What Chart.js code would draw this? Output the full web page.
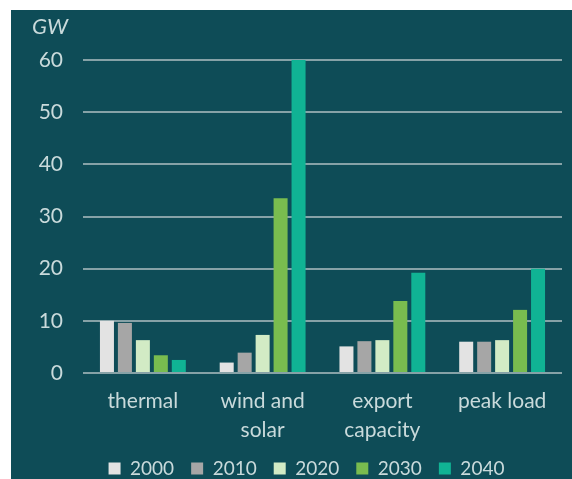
<!DOCTYPE html>
<html>
<head>
<meta charset="utf-8">
<script src="https://cdn.jsdelivr.net/npm/chart.js@4.4.1/dist/chart.umd.min.js"></script>
<style>
  html, body { margin: 0; background: #fff; overflow: hidden; }
  .panel { position: absolute; left: 11px; top: 10px; width: 561px; height: 469px; background: #0e4c57; overflow: hidden; }
  .chart-box { position: relative; width: 561px; height: 478px; }
</style>
</head>
<body>
<div class="panel"><div class="chart-box"><canvas id="capacityChart"></canvas></div></div>
<script>
// Capacity by category and year (GW)
var categories = [["thermal"], ["wind and", "solar"], ["export", "capacity"], ["peak load"]];
var years = ["2000", "2010", "2020", "2030", "2040"];
var values2000 = [10.0, 2.0, 5.1, 6.0];
var values2010 = [9.6, 3.9, 6.1, 6.0];
var values2020 = [6.3, 7.3, 6.3, 6.3];
var values2030 = [3.4, 33.5, 13.8, 12.1];
var values2040 = [2.5, 60.0, 19.2, 20.0];
var yTicks = [0, 10, 20, 30, 40, 50, 60];

var colors = ["#e3e3e3", "#a6a6a6", "#d2ebc5", "#79bc4f", "#10b394"];
var series = [values2000, values2010, values2020, values2030, values2040];
var textColor = "#c9dadb";
var fontFamily = "Lato, 'Open Sans', sans-serif";

// "GW" unit label in the top-left corner
var unitLabel = {
  id: "unitLabel",
  afterDraw: function (chart) {
    var ctx = chart.ctx;
    ctx.save();
    ctx.fillStyle = textColor;
    ctx.font = "italic 22px " + fontFamily;
    ctx.textBaseline = "middle";
    ctx.fillText("GW", 21, 17);
    ctx.restore();
  }
};

// center the legend under the plot rather than the whole canvas
var legendShift = {
  id: "legendShift",
  afterLayout: function (chart) {
    chart.legend.left += 20;
    chart.legend.right += 20;
  }
};

var ctx = document.getElementById("capacityChart").getContext("2d");
var capacityChart = new Chart(ctx, {
  type: "bar",
  data: {
    labels: categories,
    datasets: years.map(function (year, i) {
      return {
        label: year,
        data: series[i],
        backgroundColor: colors[i],
        borderWidth: 0,
        barPercentage: 0.78,
        categoryPercentage: 0.75,
      };
    }),
  },
  options: {
    responsive: true,
    maintainAspectRatio: false,
    animation: false,
    layout: {
      padding: { top: 50, right: 10, left: 0, bottom: 0 },
    },
    scales: {
      x: {
        grid: { display: false, drawTicks: false },
        border: { display: false },
        ticks: {
          color: textColor,
          font: { family: fontFamily, size: 21, lineHeight: 1.38 },
          padding: 14,
          maxRotation: 0,
        },
        afterFit: function (scale) {
          scale.height = 69;
        },
      },
      y: {
        min: 0,
        max: 60,
        afterBuildTicks: function (scale) {
          scale.ticks = yTicks.map(function (v) { return { value: v }; });
        },
        grid: { color: "#86a2a7", lineWidth: 2, drawTicks: false },
        border: { display: false },
        ticks: {
          color: textColor,
          font: { family: fontFamily, size: 21 },
          padding: 20,
        },
        afterFit: function (scale) {
          scale.width = 72;
        },
      },
    },
    plugins: {
      legend: {
        position: "bottom",
        labels: {
          color: textColor,
          font: { family: fontFamily, size: 19 },
          boxWidth: 12,
          boxHeight: 12,
          padding: 17,
        },
      },
      tooltip: { enabled: false },
    },
  },
  plugins: [unitLabel, legendShift],
});
</script>
</body>
</html>
